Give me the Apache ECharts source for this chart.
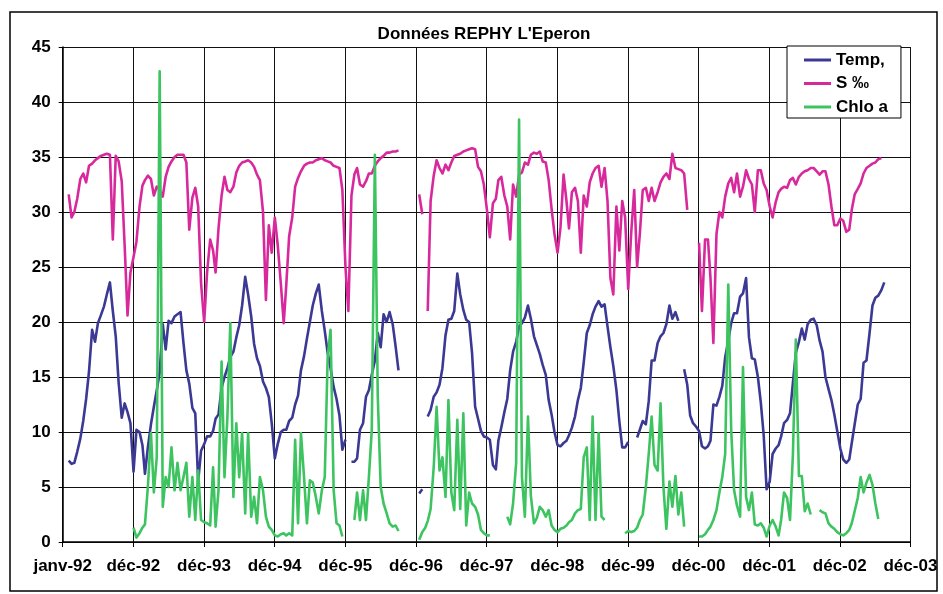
<!DOCTYPE html>
<html>
<head>
<meta charset="utf-8">
<title>Données REPHY L'Eperon</title>
<script src="https://cdn.jsdelivr.net/npm/echarts@6/dist/echarts.min.js"></script>
<style>
  html, body { margin: 0; padding: 0; background: #fff; }
  #chart { width: 943px; height: 594px; }
</style>
</head>
<body>
<div id="chart"></div>
<script>
// REPHY monitoring, station L'Eperon: fortnightly samples (1st and 16th of each month),
// January 1992 to August 2003. One row of 24 values per year; null = no sample.

const seriesNames = ['Temp,', 'S ‰', 'Chlo a'];
const monthNames = ['janv', 'févr', 'mars', 'avr', 'mai', 'juin', 'juil', 'août', 'sept', 'oct', 'nov', 'déc'];
const firstYear = 1992;
const lastYear = 2003;

// Water temperature (°C)
const tempValues = [
  /* 1992 */ null, null, 7.4, 7.1, 7.2, 8.2, 9.4, 11.0, 13.0, 15.5, 19.3, 18.2, 19.9, 20.6, 21.4, 22.5, 23.6, 21.0, 18.7, 14.5, 11.3, 12.6, 11.8, 10.8,
  /* 1993 */ 6.4, 10.2, 10.0, 8.8, 6.2, 8.6, 10.7, 12.3, 13.8, 15.4, 19.8, 17.5, 20.1, 19.9, 20.5, 20.7, 20.9, 18.1, 15.6, 14.4, 12.2, 11.7, 5.5, 8.3,
  /* 1994 */ 8.9, 9.6, 9.6, 10.1, 11.2, 11.6, 14.0, 15.0, 15.8, 16.8, 17.3, 18.6, 19.7, 21.5, 24.1, 22.5, 20.5, 18.0, 16.7, 16.0, 14.6, 14.0, 13.2, 10.8,
  /* 1995 */ 7.6, 8.9, 10.0, 10.2, 10.2, 11.0, 11.3, 12.5, 13.3, 15.6, 16.9, 18.5, 20.0, 21.5, 22.6, 23.4, 21.0, 19.2, 17.2, 15.8, 14.1, 13.0, 11.5, 8.4,
  /* 1996 */ 9.3, null, 7.3, 7.3, 7.6, 10.2, 10.8, 13.2, 13.8, 15.2, 16.5, 19.0, 17.7, 20.7, 20.0, 20.9, 19.8, 17.8, 15.6, null, null, null, null, null,
  /* 1997 */ null, 4.4, 4.8, null, 11.4, 12.0, 13.2, 13.6, 14.3, 15.8, 18.8, 20.2, 20.3, 21.0, 24.4, 22.5, 21.1, 20.2, 20.0, 17.2, 12.3, 11.2, 10.1, 9.6,
  /* 1998 */ 9.5, 9.3, 7.0, 6.6, 9.2, 10.4, 11.8, 13.0, 15.6, 17.3, 18.2, 19.6, 19.9, 20.4, 21.5, 20.3, 18.7, 17.9, 17.1, 16.1, 15.2, 12.9, 11.6, 10.0,
  /* 1999 */ 8.8, 8.7, 9.0, 9.2, 9.7, 10.4, 11.4, 12.9, 14.0, 16.3, 19.0, 19.7, 20.7, 21.4, 21.9, 21.4, 21.6, 19.6, 17.7, 16.0, 13.8, 11.0, 8.6, 8.6,
  /* 2000 */ 9.1, null, null, 9.5, 10.2, 11.0, 10.7, 12.8, 16.5, 16.5, 18.1, 18.7, 19.0, 19.8, 21.5, 20.3, 20.9, 20.1, null, 15.7, 14.3, 11.5, 10.8, 10.5,
  /* 2001 */ 10.1, 8.7, 8.5, 8.7, 9.2, 12.5, 12.4, 13.2, 14.2, 16.8, 18.3, 19.9, 20.8, 20.8, 22.3, 22.6, 24.0, 18.6, 16.7, 16.6, 15.0, 12.7, 9.7, 4.8,
  /* 2002 */ 5.5, 8.0, 8.5, 8.8, 9.6, 10.8, 11.1, 11.7, 14.5, 17.2, 18.2, 19.4, 18.4, 19.8, 20.2, 20.3, 19.7, 18.3, 17.3, 15.0, 13.9, 12.9, 11.6, 10.1,
  /* 2003 */ 8.5, 7.5, 7.2, 7.5, 9.0, 10.7, 12.5, 13.0, 16.3, 16.5, 19.0, 21.5, 22.2, 22.4, 22.9, 23.6
];

// Salinity (‰)
const salValues = [
  /* 1992 */ null, null, 31.6, 29.5, 30.0, 31.2, 33.0, 33.5, 32.7, 34.2, 34.4, 34.7, 34.9, 35.1, 35.2, 35.3, 35.2, 27.5, 35.1, 34.6, 32.8, 27.0, 20.6, 24.5,
  /* 1993 */ 25.9, 27.3, 30.5, 32.4, 32.9, 33.3, 33.0, 31.5, 32.3, 32.0, 31.4, 33.2, 34.1, 34.6, 35.0, 35.2, 35.2, 35.2, 34.5, 28.4, 31.3, 32.2, 30.5, 23.5,
  /* 1994 */ 20.0, 24.5, 27.5, 26.5, 24.5, 28.5, 31.5, 33.2, 32.0, 31.8, 32.3, 33.6, 34.2, 34.5, 34.6, 34.7, 34.5, 34.1, 33.4, 32.9, 30.0, 22.0, 28.8, 26.3,
  /* 1995 */ 29.5, 27.0, 23.5, 19.9, 23.3, 27.8, 29.5, 32.3, 33.1, 33.7, 34.2, 34.4, 34.5, 34.5, 34.7, 34.8, 34.9, 34.7, 34.6, 34.5, 34.2, 34.1, 34.0, 32.0,
  /* 1996 */ 25.0, 21.0, 31.5, 33.4, 34.0, 32.5, 32.3, 32.8, 33.5, 33.5, 34.2, 34.6, 34.9, 35.1, 35.4, 35.4, 35.5, 35.5, 35.6, null, null, null, null, null,
  /* 1997 */ null, 31.6, 29.8, null, 21.0, 31.0, 33.3, 34.7, 34.0, 33.5, 34.3, 33.8, 34.5, 35.1, 35.2, 35.3, 35.5, 35.6, 35.7, 35.8, 35.7, 34.1, 33.7, 32.5,
  /* 1998 */ 30.2, 27.7, 30.8, 31.2, 32.9, 33.2, 31.5, 30.5, 27.5, 32.5, 31.4, 33.4, 33.6, 34.5, 34.3, 35.2, 35.4, 35.3, 35.5, 34.6, 34.5, 32.9, 30.3, 28.0,
  /* 1999 */ 26.3, 28.6, 33.4, 31.0, 28.5, 31.8, 32.2, 31.0, 26.3, 31.5, 30.5, 32.7, 33.5, 34.0, 34.2, 32.3, 34.0, 31.0, 24.0, 22.5, 30.5, 26.5, 31.0, 29.5,
  /* 2000 */ 23.0, 28.0, 32.0, 25.0, 28.0, 32.0, 32.2, 31.0, 32.2, 31.0, 31.8, 32.7, 33.2, 33.5, 33.0, 35.3, 34.0, 33.9, 33.8, 33.5, 30.2, null, null, null,
  /* 2001 */ 27.2, 21.0, 27.5, 27.5, 24.0, 18.1, 28.0, 30.0, 29.5, 31.4, 32.6, 33.1, 31.8, 33.5, 31.4, 32.3, 33.8, 33.0, 32.5, 30.0, 33.8, 33.8, 32.6, 32.0,
  /* 2002 */ 30.5, 29.5, 30.9, 31.8, 32.1, 32.3, 32.2, 32.9, 33.1, 32.5, 33.2, 33.5, 33.7, 33.8, 34.0, 34.0, 33.7, 33.4, 33.7, 33.7, 32.5, 30.5, 28.8, 28.8,
  /* 2003 */ 29.4, 29.2, 28.2, 28.4, 30.2, 31.6, 32.1, 32.6, 33.5, 34.0, 34.2, 34.4, 34.5, 34.8, 34.9
];

// Chlorophyll a (µg/l)
const chloValues = [
  /* 1992 */ null, null, null, null, null, null, null, null, null, null, null, null, null, null, null, null, null, null, null, null, null, null, null, null,
  /* 1993 */ 1.3, 0.4, 0.8, 1.3, 1.6, 5.0, 9.9, 4.5, 7.7, 42.8, 3.2, 5.9, 5.0, 8.6, 4.7, 7.2, 4.7, 5.9, 7.2, 2.3, 5.9, 2.0, 6.5, 2.0,
  /* 1994 */ 1.8, 1.7, 1.5, 6.8, 1.4, 4.7, 16.4, 5.9, 11.4, 19.9, 4.1, 10.8, 5.9, 9.9, 2.6, 9.9, 2.3, 4.1, 1.7, 5.9, 4.7, 2.3, 1.4, 1.1,
  /* 1995 */ 0.6, 0.5, 0.7, 0.8, 0.6, 0.8, 0.6, 9.3, 1.7, 9.9, 5.9, 1.7, 5.6, 5.4, 4.1, 2.6, 4.7, 5.9, 16.8, 19.3, 4.7, 1.7, 1.5, 0.5,
  /* 1996 */ null, null, null, 2.0, 4.5, 2.0, 4.7, 2.0, 5.9, 10.2, 35.2, 13.2, 5.0, 3.5, 2.6, 1.7, 1.4, 1.5, 1.0, null, null, null, null, null,
  /* 1997 */ null, 0.2, 0.9, 1.3, 1.9, 3.0, 6.8, 12.3, 6.5, 7.7, 4.1, 12.9, 4.5, 2.9, 11.1, 3.0, 11.7, 1.5, 4.5, 3.5, 3.2, 2.5, 1.1, 0.8,
  /* 1998 */ 0.6, 0.6, null, null, null, null, null, 2.3, 1.6, 3.5, 7.2, 38.4, 5.9, 2.3, 11.4, 4.2, 1.7, 2.2, 3.2, 2.9, 2.3, 2.9, 1.5, 1.1,
  /* 1999 */ 0.9, 1.2, 1.3, 1.5, 1.8, 2.0, 2.6, 2.9, 3.0, 7.7, 8.6, 2.0, 11.4, 2.0, 9.9, 2.3, 2.0, null, null, null, null, null, null, 0.8,
  /* 2000 */ 1.0, 0.9, 1.0, 1.3, 2.0, 2.5, 5.0, 8.0, 11.4, 7.0, 6.5, 12.6, 5.0, 1.2, 5.5, 3.2, 6.0, 2.5, 4.5, 1.4, null, null, null, null,
  /* 2001 */ 0.5, 0.5, 0.7, 1.1, 1.4, 2.0, 2.9, 4.5, 5.9, 8.0, 23.4, 10.2, 4.7, 3.3, 2.3, 15.9, 4.1, 2.9, 4.5, 1.6, 1.5, 1.7, 1.3, 0.5,
  /* 2002 */ 1.5, 2.0, 1.4, 0.6, 2.0, 4.5, 4.0, 2.0, 8.0, 18.4, 6.0, 6.0, 2.8, 3.5, 2.5, null, null, 2.9, 2.7, 2.6, 1.7, 1.4, 1.2, 0.9,
  /* 2003 */ 0.7, 0.6, 0.8, 1.1, 1.7, 2.8, 4.0, 5.9, 4.5, 5.4, 6.1, 5.2, 3.5, 2.1
];

const seriesColors = ['#3b3994', '#d8299c', '#3dc460'];

// Sampling calendar: 1st and 16th of every month.
const DAY = 86400000;
const origin = Date.UTC(firstYear, 0, 1);
const sampleDays = [];
for (let y = firstYear; y <= lastYear; y++) {
  for (let m = 0; m < 12; m++) {
    for (const d of [1, 16]) sampleDays.push((Date.UTC(y, m, d) - origin) / DAY);
  }
}
function pairUp(values) {
  return values.map((v, i) => [sampleDays[i], v]);
}

// Axis ticks fall every 365 days from 1 January 1992, labelled "mois-aa".
function dayLabel(v) {
  const d = new Date(origin + v * DAY);
  return monthNames[d.getUTCMonth()] + '-' + String(d.getUTCFullYear()).slice(2);
}

const FONT = '"Liberation Sans", Arial, Helvetica, sans-serif';
const labelStyle = { fontFamily: FONT, fontWeight: 'bold', fontSize: 17, color: '#000' };

const chart = echarts.init(document.getElementById('chart'), null, { renderer: 'canvas' });
chart.setOption({
  animation: false,
  backgroundColor: '#fff',
  grid: { left: 62.7, right: 32.6, top: 47, bottom: 52, containLabel: false, outerBoundsMode: 'none' },
  xAxis: {
    type: 'value', min: 0, max: 4380, interval: 365,
    axisLine: { show: true, onZero: false, lineStyle: { color: '#000', width: 1.5 } },
    axisTick: { show: true, length: 5, lineStyle: { color: '#000', width: 1 } },
    splitLine: { show: true, lineStyle: { color: '#111', width: 1 } },
    axisLabel: Object.assign({ margin: 16, formatter: dayLabel, showMinLabel: true, showMaxLabel: true }, labelStyle)
  },
  yAxis: {
    type: 'value', min: 0, max: 45, interval: 5,
    axisLine: { show: true, lineStyle: { color: '#000', width: 1.5 } },
    axisTick: { show: true, length: 4, lineStyle: { color: '#000', width: 1 } },
    splitLine: { show: true, lineStyle: { color: '#111', width: 1 } },
    axisLabel: Object.assign({ margin: 12 }, labelStyle)
  },
  legend: {
    orient: 'vertical', left: 787, top: 46,
    padding: [5, 13, 2, 17], itemGap: 5.5, itemWidth: 27, itemHeight: 3,
    icon: 'rect',
    backgroundColor: '#fff', borderColor: '#000', borderWidth: 1, borderRadius: 0,
    textStyle: { fontFamily: FONT, fontWeight: 'bold', fontSize: 17, color: '#000', lineHeight: 18 },
    data: seriesNames
  },
  graphic: [
    { type: 'rect', silent: true, z: 100,
      shape: { x: 10, y: 12, width: 927, height: 579 },
      style: { fill: null, stroke: '#000', lineWidth: 1.5 } },
    { type: 'text', silent: true, z: 100, x: 484, y: 34,
      style: { text: "Données REPHY L'Eperon", fontFamily: FONT, fontWeight: 'bold', fontSize: 17,
               fill: '#000', align: 'center', verticalAlign: 'middle' } }
  ],
  series: [tempValues, salValues, chloValues].map((vals, k) => ({
    name: seriesNames[k],
    type: 'line',
    data: pairUp(vals),
    symbol: 'none',
    showSymbol: false,
    connectNulls: false,
    sampling: null,
    z: 2 + k,
    lineStyle: { color: seriesColors[k], width: 2.6, join: 'round' },
    itemStyle: { color: seriesColors[k] }
  }))
});
</script>
</body>
</html>
